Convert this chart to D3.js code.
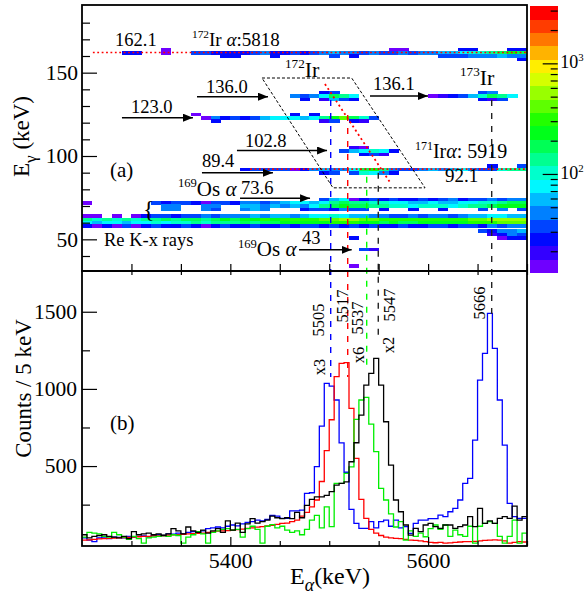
<!DOCTYPE html>
<html><head><meta charset="utf-8">
<script src="https://cdn.jsdelivr.net/npm/d3@7"></script>
<style>
body{margin:0;background:#fff}
svg text{font-family:'Liberation Serif',serif;fill:#000}
</style>
</head><body>
<svg id="c" width="586" height="594" font-family="Liberation Serif"></svg>
<script>
// ---------------- DATA ----------------
// alpha-energy histogram bins: 5 keV wide starting at 5250 keV
const alphaStart = 5250, alphaBin = 5;
const blueCounts = [35,20,10,35,40,30,40,38,35,45, 40,45,48,42,50,55,52,60,58,65,
  62,70,75,72,80,95,100,105,100,110, 118,112,125,135,140,150,145,155,180,175,
  161,161,210,210,215,323,327,496,759,1036, 1018,928,650,460,219,128,96,96,140,100,
  140,150,110,150,100,107,64,128,150,150, 160,160,182,172,204,226,280,388,420,668,
  1057,1230,1489,1262,928,636,258,172,161,161];
const redCounts = [20,22,25,28,30,32,33,35,36,38, 40,42,44,45,47,48,50,52,54,56,
  58,60,62,64,66,70,74,78,80,82, 85,88,92,96,100,104,108,112,116,122,
  128,130,140,150,175,200,236,280,400,600, 800,1080,1165,1170,874,550,284,161,90,65,
  50,40,35,32,30,25,20,18,15,10, 5,3,5,0,2,5,8,10,10,12,
  15,18,20,22,20,15,0,5,10,8];
const greenCounts = [40,70,65,60,45,40,70,55,40,25, 45,30,0,35,40,45,50,45,55,50,
  0,40,55,75,60,0,70,80,90,95, 85,90,40,95,110,90,0,110,120,100,
  110,85,70,80,55,90,150,180,100,235, 107,388,388,452,495,802,928,945,772,593,
  355,280,190,105,140,20,80,45,65,42, 95,118,90,118,45,85,55,45,110,0,
  110,128,140,128,45,0,45,150,0,65];
const blackCounts = [55,35,45,50,55,45,40,35,45,30, 75,55,60,65,55,60,50,60,95,80,
  60,105,80,70,85,65,80,95,70,145, 85,130,70,125,160,130,140,150,175,165,
  160,165,160,200,165,245,284,300,300,310, 334,377,388,398,528,651,830,1025,1100,1198,
  1025,787,506,280,204,118,53,96,75,118, 128,107,96,118,118,96,107,118,172,107,
  226,128,145,128,161,172,161,240,150,172];

// E_gamma vs E_alpha matrix: rows of 2 keV (E_gamma lower edge eg), 10 keV alpha bins starting at e0
const gammaBin = 2, alpha2dBin = 10;
const gammaRows = [
 {eg:163, e0:5330, c:[14,0,0,0,0,0,0,0,0,0,0,0,0,0,0,0,0,0,0,0,0,0,0,14,14,0,0,0,0,0,25,25,0,0,0,25,25]},
 {eg:161, e0:5290, c:[25,25,0,0,14,0,0,33,33,25,25,25,25,33,44,25,25,33,25,33,44,58,44,44,33,44,33,33,44,33,44,44,58,58,77,100,100,135,180,230,180]},
 {eg:159, e0:5390, c:[25,25,0,0,0,25,0,0,0,0,0,33,0,25,0,0,0,0,0,0,0,0,33,33,33,44,44,44,58,44,44]},
 {eg:157, e0:5690, c:[25]},
 {eg:137, e0:5490, c:[25,33,0,0,0,0,0,0,0,0,0,0,0,0,0,0,33,44]},
 {eg:135, e0:5460, c:[44,33,44,77,180,135,77,0,0,0,0,0,0,0,14,19,25,33,58,100,177,135,77]},
 {eg:133, e0:5470, c:[25,0,19,58,33,25,0,0,0,0,0,0,0,0,0,0,0,0,25,19,33]},
 {eg:124, e0:5360, c:[14,0,0,0,0,0,0,0,0,0,25,0,25]},
 {eg:122, e0:5370, c:[14,44,25,33,25,33,58,77,77,77,58,77,135,230,410,180,100,33]},
 {eg:120, e0:5380, c:[25,0,0,0,0,0,0,0,0,0,0,19,33,0,25,19]},
 {eg:104, e0:5520, c:[19,14]},
 {eg:102, e0:5510, c:[33,58,77,100,77,25]},
 {eg:100, e0:5530, c:[25,33,19]},
 {eg:93, e0:5660, c:[25,0,0,33]},
 {eg:91, e0:5410, c:[25,33,33,33,33,14,25,44,58,44,44,77,180,230,135,44,33,33,44,58,44,58,77,44,33,33,100,135,135]},
 {eg:89, e0:5490, c:[25,33,0,33,100,77,44,25]},
 {eg:73, e0:5490, c:[33,58,77,14,25,33,25,33,25,25,33,25,33,44,25,33,33,44,33,44,44]},
 {eg:71, e0:5250, c:[14,0,0,0,0,0,0,33,25,33,33,25,14,33,33,25,44,44,33,44,58,77,77,58,77,135,180,135,135,100,100,77,77,58,58,77,58,58,77,77,100,100,135,180,180]},
 {eg:69, e0:5330, c:[44,44,0,0,44,44,0,0,58,58,44,58,44,58,44,77,135,180,230,180,180,135,135,100,100,77,100,100,100,77,100,135,135,180,230,230,230]},
 {eg:67, e0:5330, c:[44,44,0,0,44,33,0,0,44,58,44,0,0,0,25,33,33,25,44,33,33,0,25,0,0,25,0,0,25,0,0,0,33,0,44,0,33]},
 {eg:63, e0:5250, c:[14,14,0,14,0,14,25,33,33,25,33,33,44,33,44,44,44,58,44,58,58,44,58,77,77,100,77,58,58,44,44,33,33,44,33,44,44,33,44,58,58,77,77,58,58]},
 {eg:61, e0:5250, c:[135,100,135,100,135,100,135,135,180,135,180,180,135,180,230,180,230,230,310,230,310,310,310,310,410,410,540,540,410,410,310,310,310,310,310,310,310,310,310,410,410,540,540,540,540]},
 {eg:59, e0:5250, c:[77,58,77,77,58,77,77,100,77,100,100,135,100,135,135,135,180,135,180,180,230,230,230,230,230,310,310,310,230,230,180,230,180,180,230,230,230,230,230,310,310,310,410,410,410]},
 {eg:57, e0:5250, c:[25,14,25,14,33,14,25,33,25,25,33,25,14,25,33,25,25,33,25,25,33,25,33,33,25,33,25,33,25,33,25,25,33,25,25,33,33,25,33,33,25,44,33,44,44]},
 {eg:54, e0:5650, c:[33,25,44,44,58]},
 {eg:52, e0:5660, c:[19,25,44,33]},
 {eg:50, e0:5670, c:[14,25,25]},
 {eg:50, e0:5520, c:[25]},
 {eg:43, e0:5530, c:[33,19]},
 {eg:33, e0:5520, c:[14]}
];

// colour scale (log z)
const zMin = 12.8, zMax = 3300, nBands = 20;
const zMajor = [100, 1000];
const zMinor = [20,30,40,50,60,70,80,90,200,300,400,500,600,700,800,900,2000,3000];

// axis ticks
const topMajor = [50,100,150];
const topMinor = [40,60,70,80,90,110,120,130,140,160,170,180];
const botMajor = [500,1000,1500];
const botMinor = [250,750,1250];
const xMajor = [5400,5600];
const xMinor = [5300,5350,5450,5500,5550,5650,5700];

// marked alpha lines: E_alpha, E_gamma top and counts bottom extents
const markLines = [
 {e:5501.5, col:"#0000ff", gTop:133.6, cBot:1077},
 {e:5518.7, col:"#ff0000", gTop:124.6, cBot:1077},
 {e:5537.9, col:"#00ff00", gTop:87.5,  cBot:1120},
 {e:5549.6, col:"#222222", gTop:89.9,  cBot:1336},
 {e:5664.3, col:"#222222", gTop:133.6, cBot:1459}
];
const redDotLines = [{eg:162.1, e1:5261, e2:5700},{eg:92.1, e1:5420, e2:5700}];

// ---------------- LAYOUT ----------------
const FONT = "Liberation Serif";
const svg = d3.select("#c");
const L=82, R=527, T=5, MID=271, B=546;
const x = d3.scaleLinear().domain([5250,5700]).range([L,R]);
const yTop = d3.scaleLinear().domain([31,190.6]).range([MID,T]);
const yBot = d3.scaleLinear().domain([-18,1764]).range([B,MID]);
const zScale = d3.scaleLog().domain([zMin,zMax]).range([272.7,6]);

const hueOf = b => 266*(1-b/(nBands-1));
function colorOf(v){
  let b = Math.floor((Math.log10(v)-Math.log10(zMin))/(Math.log10(zMax)-Math.log10(zMin))*nBands);
  b = Math.max(0, Math.min(nBands-1, b));
  return d3.hsl(hueOf(b),1,0.5).formatHex();
}

svg.append("defs").call(d=>{
  d.append("clipPath").attr("id","clipTop").append("rect").attr("x",L).attr("y",T).attr("width",R-L).attr("height",MID-T);
  d.append("clipPath").attr("id","clipBot").append("rect").attr("x",L).attr("y",MID).attr("width",R-L).attr("height",B-MID);
  d.append("marker").attr("id","ah").attr("viewBox","0 0 10 8").attr("refX",10).attr("refY",4)
   .attr("markerWidth",10).attr("markerHeight",8).attr("markerUnits","userSpaceOnUse").attr("orient","auto")
   .append("path").attr("d","M0,0L10,4L0,8Z").attr("fill","#000");
});

// ---- 2D cells
const cells = [];
gammaRows.forEach(r => r.c.forEach((v,k) => { if(v>0) cells.push({e:r.e0+alpha2dBin*k, eg:r.eg, v}); }));
const gTop = svg.append("g").attr("clip-path","url(#clipTop)");
gTop.selectAll("rect").data(cells).join("rect")
  .attr("x", d=>x(d.e)).attr("width", d=>x(d.e+alpha2dBin)-x(d.e)+0.4)
  .attr("y", d=>yTop(d.eg+gammaBin)).attr("height", d=>yTop(d.eg)-yTop(d.eg+gammaBin)+0.3)
  .attr("fill", d=>colorOf(d.v)).attr("shape-rendering","crispEdges");

// red dotted lines
gTop.selectAll("line.rd").data(redDotLines).join("line")
  .attr("x1",d=>x(d.e1)).attr("x2",d=>x(d.e2)).attr("y1",d=>yTop(d.eg)).attr("y2",d=>yTop(d.eg))
  .attr("stroke","#ff0000").attr("stroke-width",1.6).attr("stroke-dasharray","1.8,2.6");

// parallelogram
const para = [[5432.0,146.8],[5522.7,146.8],[5596.9,80.9],[5503.8,80.9]];
gTop.append("path").attr("d", d3.line().x(d=>x(d[0])).y(d=>yTop(d[1]))(para)+"Z")
  .attr("fill","none").attr("stroke","#000").attr("stroke-width",1).attr("stroke-dasharray","3,2");
// red diagonal
gTop.append("line").attr("x1",x(5495.7)).attr("y1",yTop(143.2)).attr("x2",x(5562.5)).attr("y2",yTop(83.3))
  .attr("stroke","#ff0000").attr("stroke-width",1.8).attr("stroke-dasharray","2,3");

// ---- histograms
const gBot = svg.append("g").attr("clip-path","url(#clipBot)");
const series = [[blueCounts,"#0000ff"],[redCounts,"#ff0000"],[greenCounts,"#00ee00"],[blackCounts,"#000000"]];
const stepLine = d3.line().x(d=>x(d[0])).y(d=>yBot(d[1])).curve(d3.curveStepAfter);
series.forEach(([vals,col])=>{
  const pts = vals.map((v,i)=>[alphaStart+alphaBin*i, v]);
  pts.push([alphaStart+alphaBin*vals.length, vals[vals.length-1]]);
  gBot.append("path").attr("d",stepLine(pts)).attr("fill","none").attr("stroke",col).attr("stroke-width",1.3);
});

// ---- marker dashed lines
svg.selectAll("line.mk").data(markLines).join("line")
  .attr("x1",d=>x(d.e)).attr("x2",d=>x(d.e)).attr("y1",d=>yTop(d.gTop)).attr("y2",d=>yBot(d.cBot))
  .attr("stroke",d=>d.col).attr("stroke-width",1.4).attr("stroke-dasharray","6,7");

// ---- frames
[[T,MID],[MID,B]].forEach(([a,b])=>svg.append("rect").attr("x",L).attr("y",a).attr("width",R-L).attr("height",b-a)
  .attr("fill","none").attr("stroke","#000").attr("stroke-width",1.8));

// ---- axes
function styleAxis(g, size){
  g.select(".domain").remove();
  g.attr("font-size",null).attr("font-family",FONT);
  g.selectAll("line").attr("stroke","#000").attr("stroke-width",1.2);
  g.selectAll("text").attr("font-size",size).attr("font-family",FONT).attr("fill","#000");
}
const fmt = d3.format("d");
svg.append("g").attr("transform",`translate(${L},0)`).call(d3.axisLeft(yTop).tickValues(topMajor).tickSize(-15).tickPadding(4).tickFormat(fmt)).call(g=>styleAxis(g,21.5));
svg.append("g").attr("transform",`translate(${L},0)`).call(d3.axisLeft(yTop).tickValues(topMinor).tickSize(-8).tickFormat("")).call(g=>styleAxis(g,0));
svg.append("g").attr("transform",`translate(${L},0)`).call(d3.axisLeft(yBot).tickValues(botMajor).tickSize(-15).tickPadding(5).tickFormat(fmt)).call(g=>styleAxis(g,21.5));
svg.append("g").attr("transform",`translate(${L},0)`).call(d3.axisLeft(yBot).tickValues(botMinor).tickSize(-8).tickFormat("")).call(g=>styleAxis(g,0));
svg.append("g").attr("transform",`translate(0,${MID})`).call(d3.axisBottom(x).tickValues(xMajor.concat(xMinor)).tickSize(-7).tickFormat("")).call(g=>styleAxis(g,0));
svg.append("g").attr("transform",`translate(0,${MID})`).call(d3.axisTop(x).tickValues(xMajor.concat(xMinor)).tickSize(-4).tickFormat("")).call(g=>styleAxis(g,0));
svg.append("g").attr("transform",`translate(0,${B})`).call(d3.axisBottom(x).tickValues(xMajor).tickSize(-9).tickPadding(6).tickFormat(fmt)).call(g=>styleAxis(g,22));
svg.append("g").attr("transform",`translate(0,${B})`).call(d3.axisBottom(x).tickValues(xMinor).tickSize(-5).tickFormat("")).call(g=>styleAxis(g,0));

// ---- colour bar
const cbL = 530, cbR = 557.7;
const bandEdges = d3.range(nBands+1).map(i=>Math.pow(10, Math.log10(zMin)+i*(Math.log10(zMax)-Math.log10(zMin))/nBands));
svg.selectAll("rect.cb").data(d3.range(nBands)).join("rect")
  .attr("x",cbL).attr("width",cbR-cbL)
  .attr("y",i=>zScale(bandEdges[i+1])).attr("height",i=>zScale(bandEdges[i])-zScale(bandEdges[i+1])+0.4)
  .attr("fill",i=>d3.hsl(hueOf(i),1,0.5).formatHex()).attr("shape-rendering","crispEdges");
svg.append("g").attr("transform",`translate(${cbR},0)`).call(d3.axisRight(zScale).tickValues(zMajor).tickSize(-15).tickFormat("")).call(g=>styleAxis(g,0));
svg.append("g").attr("transform",`translate(${cbR},0)`).call(d3.axisRight(zScale).tickValues(zMinor).tickSize(-7).tickFormat("")).call(g=>styleAxis(g,0));

// ---- rich text helper
function rich(g, px, py, parts, size, rot){
  const t = g.append("text").attr("x",px).attr("y",py).attr("font-size",size)
    .attr("font-family",FONT).style("white-space","pre");
  if(rot) t.attr("transform",`rotate(${rot},${px},${py})`);
  let cur = 0;
  parts.forEach(p=>{
    const s = typeof p==="string" ? {t:p} : p;
    let off=0, fs=size;
    if(s.sup){ off=-0.4*size; fs=0.6*size; }
    if(s.sub){ off=0.3*size; fs=0.75*size; }
    const ts = t.append("tspan").text(s.t).attr("font-size",fs).attr("dy",off-cur);
    if(s.it) ts.attr("font-style","italic");
    cur = off;
  });
  return t;
}
zMajor.forEach(v=>{
  rich(svg, cbR+2.5, zScale(v)+5, ["10",{t:String(Math.round(Math.log10(v))),sup:1}], 18);
});

// ---- top annotations (positions in data units)
const topTexts = [
 {p:["162.1"], e:5283.4, g:166.3, s:18.5},
 {p:[{t:"172",sup:1},"Ir ",{t:"α",it:1},":5818"], e:5361.2, g:166.3, s:19},
 {p:[{t:"172",sup:1},"Ir"], e:5455.3, g:147.4, s:22},
 {p:["136.0"], e:5375.4, g:137.8, s:18.5},
 {p:["123.0"], e:5299.5, g:125.8, s:18.5},
 {p:["102.8"], e:5414.8, g:105.7, s:18.5},
 {p:["89.4"], e:5371.3, g:93.4, s:18.5},
 {p:["(a)"], e:5278.3, g:87.5, s:21},
 {p:[{t:"169",sup:1},"Os ",{t:"α",it:1}], e:5347, g:76.1, s:21},
 {p:["73.6"], e:5410.8, g:77.3, s:18.5},
 {p:["{"], e:5311.7, g:63.5, s:24},
 {p:["Re K-x rays"], e:5272.2, g:46.1, s:18.5},
 {p:[{t:"169",sup:1},"Os ",{t:"α",it:1}], e:5407.7, g:39.8, s:21},
 {p:["43"], e:5472.5, g:47.3, s:18.5},
 {p:["136.1"], e:5544.3, g:139.6, s:18.5},
 {p:[{t:"173",sup:1},"Ir"], e:5632.2, g:142.6, s:22},
 {p:[{t:"171",sup:1},"Ir",{t:"α",it:1},": 5919"], e:5586.7, g:98.7, s:20},
 {p:["92.1"], e:5617.1, g:84.6, s:19}
];
topTexts.forEach(d=>rich(svg, x(d.e), yTop(d.g), d.p, d.s));

const topArrows = [
 {e1:5366.3, e2:5438.1, g:135.6},
 {e1:5290.4, e2:5362.2, g:123.0},
 {e1:5406.7, e2:5497.8, g:103.3},
 {e1:5371.3, e2:5443.1, g:89.9},
 {e1:5409.8, e2:5480.6, g:74.7},
 {e1:5469.4, e2:5522.7, g:43.7},
 {e1:5541.2, e2:5599.9, g:136.0}
];
svg.selectAll("line.ar").data(topArrows).join("line")
  .attr("x1",d=>x(d.e1)).attr("x2",d=>x(d.e2)).attr("y1",d=>yTop(d.g)).attr("y2",d=>yTop(d.g))
  .attr("stroke","#000").attr("stroke-width",1.5).attr("marker-end","url(#ah)");

// ---- bottom annotations
const botTexts = [
 {t:"5505", e:5488.6, c:1446}, {t:"5517", e:5513.4, c:1537}, {t:"5537", e:5528.6, c:1459},
 {t:"5547", e:5560.5, c:1544}, {t:"5666", e:5651.5, c:1557},
 {t:"x3", e:5489.7, c:1142}, {t:"x6", e:5529.6, c:1219}, {t:"x2", e:5559.4, c:1284}
];
botTexts.forEach(d=>{
  svg.append("text").attr("x",x(d.e)).attr("y",yBot(d.c)).attr("text-anchor","middle").attr("dy","0.34em")
    .attr("font-family",FONT).attr("font-size",16.5)
    .attr("transform",`rotate(-90,${x(d.e)},${yBot(d.c)})`).text(d.t);
});
rich(svg, x(5278.3), yBot(733.7), ["(b)"], 21);

// ---- axis titles
rich(svg, 29, 136.5, ["E",{t:"γ",sub:1},{t:" (keV)"}], 23, -90).attr("text-anchor","middle");
svg.append("text").attr("x",31).attr("y",388.5).attr("text-anchor","middle").attr("font-size",23)
  .attr("font-family",FONT).attr("transform","rotate(-90,31,388.5)").text("Counts / 5 keV");
rich(svg, 290, 584, ["E",{t:"α",sub:1,it:1},{t:"(keV)"}], 24);
</script>
</body></html>
